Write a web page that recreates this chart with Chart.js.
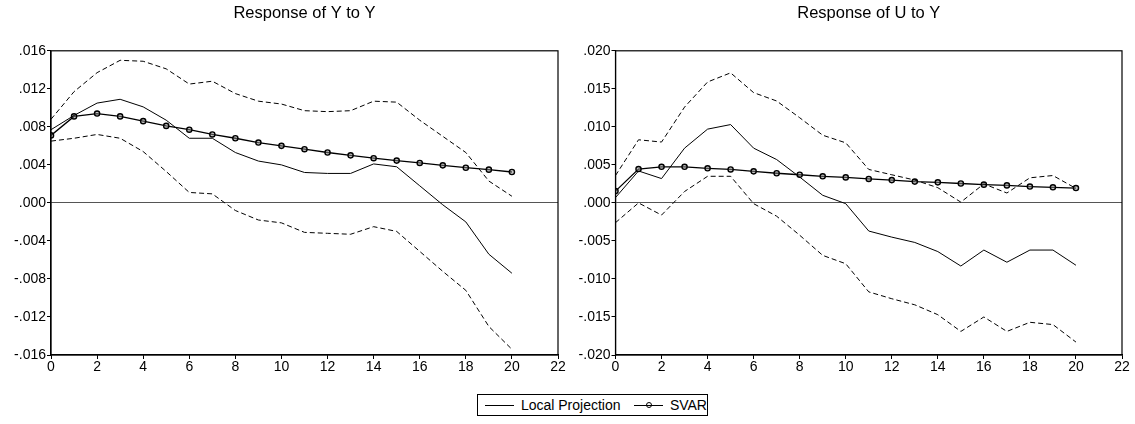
<!DOCTYPE html>
<html>
<head>
<meta charset="utf-8">
<script src="https://cdn.jsdelivr.net/npm/chart.js@4/dist/chart.umd.min.js"></script>
<style>
    body { margin: 0; background: #fff; font-family: "Liberation Sans", Arial, sans-serif; }
    .stage { position: relative; width: 1135px; height: 424px; }
    #chartYY { position: absolute; left: 0; top: 0; }
    #chartUY { position: absolute; left: 567px; top: 0; }
    .legend {
        position: absolute; left: 477px; top: 394px; width: 229px; height: 20px;
        border: 1px solid #000; font-size: 14px; color: #000;
        display: flex; align-items: center; white-space: nowrap;
    }
    .legend .line { display: inline-block; width: 30px; height: 0; border-top: 1px solid #000; margin: 0 7px 0 7px; position: relative; }
    .legend .dot { position: absolute; left: 12px; top: -3.5px; width: 4px; height: 4px; border: 1.3px solid #000; border-radius: 50%; }
    .legend .gap { width: 14px; display: inline-block; }
</style>
</head>
<body>
<div class="stage">
    <canvas id="chartYY" width="567" height="380"></canvas>
    <canvas id="chartUY" width="568" height="380"></canvas>
    <div class="legend">
        <span class="line"></span><span>Local Projection</span><span class="gap"></span>
        <span class="line" style="margin-left:0"><span class="dot"></span></span><span>SVAR</span>
    </div>
</div>
<script>
// horizons (quarters after the shock)
const horizons = [0, 1, 2, 3, 4, 5, 6, 7, 8, 9, 10, 11, 12, 13, 14, 15, 16, 17, 18, 19, 20];

// Response of Y to Y
const lpYY = [0.0077, 0.0092, 0.0105, 0.0109, 0.0101, 0.0087, 0.0068, 0.0068, 0.0053, 0.0044, 0.0040,
    0.0032, 0.0031, 0.0031, 0.0041, 0.0038, 0.0018, -0.0002, -0.0020, -0.0054, -0.0074];
const upperYY = [0.0088, 0.0117, 0.0137, 0.0150, 0.0149, 0.0141, 0.0125, 0.0128, 0.0115, 0.0107, 0.0104,
    0.0097, 0.0096, 0.0097, 0.0107, 0.0106, 0.0087, 0.0070, 0.0053, 0.0023, 0.0007];
const lowerYY = [0.0065, 0.0068, 0.0072, 0.0068, 0.0054, 0.0033, 0.0011, 0.00095, -0.0008, -0.0018, -0.0021,
    -0.0031, -0.0032, -0.0033, -0.0025, -0.0030, -0.0051, -0.0072, -0.0092, -0.0130, -0.0154];
const svarYY = [0.0071, 0.0091, 0.0094, 0.0091, 0.0086, 0.0081, 0.0077, 0.0072, 0.0068, 0.00635, 0.0060,
    0.00565, 0.0053, 0.0050, 0.0047, 0.00445, 0.0042, 0.00395, 0.0037, 0.0035, 0.00325];

// Response of U to Y
const lpUY = [0.0007, 0.0042, 0.0032, 0.0072, 0.0097, 0.0103, 0.0072, 0.0057, 0.0034, 0.0010, -0.0001,
    -0.0037, -0.0045, -0.0052, -0.0064, -0.0083, -0.0062, -0.0078, -0.0062, -0.0062, -0.0082];
const upperUY = [0.0036, 0.0083, 0.0080, 0.0126, 0.0159, 0.0171, 0.0145, 0.0134, 0.0112, 0.0089, 0.0079,
    0.0044, 0.0037, 0.0030, 0.0020, 0.0001, 0.0025, 0.0013, 0.0033, 0.0036, 0.0019];
const lowerUY = [-0.0026, 0.0000, -0.0016, 0.0015, 0.0035, 0.0035, -0.0001, -0.00175, -0.00425, -0.0069, -0.0080,
    -0.0117, -0.0126, -0.0134, -0.0147, -0.0169, -0.0150, -0.0169, -0.0157, -0.0160, -0.0183];
const svarUY = [0.00155, 0.00445, 0.00475, 0.00475, 0.00455, 0.0044, 0.00415, 0.0039, 0.0037, 0.0035, 0.00335,
    0.00315, 0.0030, 0.0028, 0.0027, 0.00255, 0.0024, 0.0023, 0.00215, 0.00205, 0.00195];

// axis ticks
const xTicks = [0, 2, 4, 6, 8, 10, 12, 14, 16, 18, 20, 22];
const yTicksYY = [-0.016, -0.012, -0.008, -0.004, 0, 0.004, 0.008, 0.012, 0.016];
const yTicksUY = [-0.020, -0.015, -0.010, -0.005, 0, 0.005, 0.010, 0.015, 0.020];

const FONT = '"Liberation Sans", Arial, sans-serif';
Chart.defaults.color = '#000';
Chart.defaults.font.family = FONT;

const toPoints = (values) => values.map((v, i) => ({ x: horizons[i], y: v }));

// "-0.004" -> "-.004", "0.000" -> ".000"
const fmt = (v) => Number(v).toFixed(3).replace('0.', '.');

// EViews draws a closed box round the plot
const frame = {
    id: 'frame',
    afterDraw(chart) {
        const { ctx, chartArea: a } = chart;
        ctx.save();
        ctx.strokeStyle = '#000';
        ctx.lineWidth = 1.2;
        ctx.strokeRect(a.left, a.top, a.right - a.left, a.bottom - a.top);
        ctx.restore();
    },
};

function drawPanel(canvasId, title, lp, upper, lower, svar, yTicks, yAxisWidth, padRight) {
    const band = (data) => ({
        data: toPoints(data),
        borderColor: '#000',
        borderWidth: 1,
        borderDash: [5, 3],
        pointRadius: 0,
        tension: 0,
    });

    return new Chart(document.getElementById(canvasId), {
        type: 'line',
        data: {
            datasets: [
                band(upper),
                band(lower),
                { data: toPoints(lp), borderColor: '#000', borderWidth: 1, pointRadius: 0 },
                {
                    data: toPoints(svar),
                    borderColor: '#000',
                    borderWidth: 1.3,
                    pointRadius: 2.6,
                    pointBorderWidth: 1.4,
                    pointBorderColor: '#000',
                    pointBackgroundColor: 'rgba(140,140,140,0.5)',
                },
            ],
        },
        options: {
            responsive: false,
            animation: false,
            events: [],
            layout: { padding: { left: 0, right: padRight, top: 0, bottom: 0 } },
            plugins: {
                legend: { display: false },
                tooltip: { enabled: false },
                title: {
                    display: true,
                    text: title,
                    fullSize: false,
                    font: { size: 16.5, weight: 'normal', family: FONT },
                    color: '#000',
                    padding: { top: 4, bottom: 27 },
                },
            },
            scales: {
                x: {
                    type: 'linear',
                    min: 0,
                    max: 22,
                    afterBuildTicks: (scale) => { scale.ticks = xTicks.map((v) => ({ value: v })); },
                    afterFit: (scale) => { scale.height = 25; scale.paddingLeft = 0; scale.paddingRight = 0; },
                    grid: { drawOnChartArea: false, tickLength: 4, tickColor: '#000', color: '#000' },
                    border: { color: '#000', width: 1.2 },
                    ticks: { font: { size: 14 }, padding: 0, maxRotation: 0, autoSkip: false },
                },
                y: {
                    min: yTicks[0],
                    max: yTicks[yTicks.length - 1],
                    afterBuildTicks: (scale) => { scale.ticks = yTicks.map((v) => ({ value: v })); },
                    afterFit: (scale) => { scale.width = yAxisWidth; scale.paddingTop = 0; scale.paddingBottom = 0; },
                    grid: {
                        tickLength: 4,
                        tickColor: '#000',
                        color: (ctx) => (ctx.tick && Math.abs(ctx.tick.value) < 1e-9 ? '#555' : 'rgba(0,0,0,0)'),
                        lineWidth: 1,
                    },
                    border: { color: '#000', width: 1.2 },
                    ticks: { font: { size: 14 }, padding: 1, callback: (v) => fmt(v), autoSkip: false },
                },
            },
        },
        plugins: [frame],
    });
}

drawPanel('chartYY', 'Response of Y to Y', lpYY, upperYY, lowerYY, svarYY, yTicksYY, 51, 9);
drawPanel('chartUY', 'Response of U to Y', lpUY, upperUY, lowerUY, svarUY, yTicksUY, 48.5, 13);
</script>
</body>
</html>
